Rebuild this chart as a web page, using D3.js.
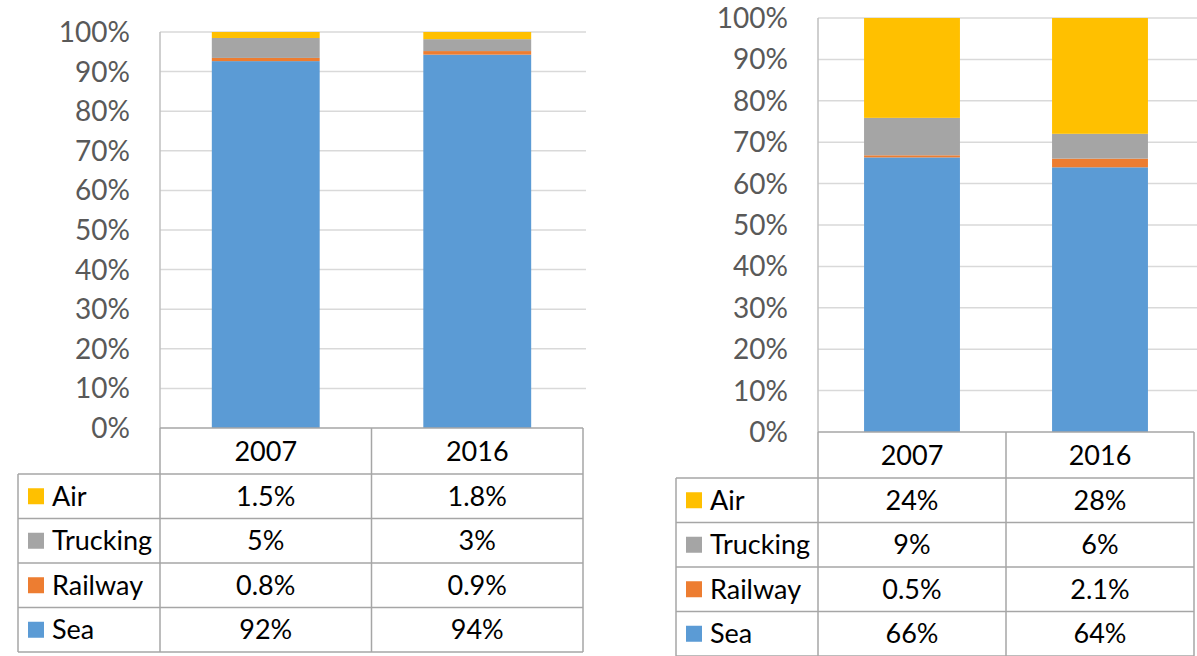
<!DOCTYPE html>
<html>
<head>
<meta charset="utf-8">
<script src="https://cdn.jsdelivr.net/npm/d3@7"></script>
<style>
  body { margin: 0; background: #fff; }
  svg { display: block; font-family: Lato, "Open Sans", sans-serif; }
</style>
</head>
<body>
<div class="canvas"></div>
<script>
// data
const years = ["2007", "2016"];
const modes = ["Air", "Trucking", "Railway", "Sea"];   // table order (top to bottom)
const colors = ["#FFC000", "#A5A5A5", "#ED7D31", "#5B9BD5"];

// left chart (values in %)
const leftAir = [1.5, 1.8];
const leftTrucking = [5, 3];
const leftRailway = [0.8, 0.9];
const leftSea = [92, 94];

// right chart
const rightAir = [24, 28];
const rightTrucking = [9, 6];
const rightRailway = [0.5, 2.1];
const rightSea = [66, 64];

const yTicks = [0, 0.1, 0.2, 0.3, 0.4, 0.5, 0.6, 0.7, 0.8, 0.9, 1];

const svg = d3.select(".canvas").append("svg")
    .attr("width", 1197)
    .attr("height", 656);

function drawChart(cfg, series) {
    // one row per year, keyed by mode
    const rows = years.map((y, i) => {
        const r = { year: y };
        modes.forEach((m, k) => r[m] = series[k][i]);
        return r;
    });

    const x = d3.scaleBand().domain(years).range([cfg.plotLeft, cfg.plotRight]).paddingInner(0.49).paddingOuter(0.245);
    const y = d3.scaleLinear().domain([0, 1]).range([cfg.plotBottom, cfg.plotTop]);

    const g = svg.append("g");

    // gridlines
    g.append("g").selectAll("line")
        .data(yTicks.filter(d => d > 0))
        .join("line")
        .attr("x1", cfg.plotLeft).attr("x2", cfg.gridRight)
        .attr("y1", d => y(d)).attr("y2", d => y(d))
        .attr("stroke", "#D9D9D9").attr("stroke-width", 1.5);

    // vertical axis line
    g.append("line")
        .attr("x1", cfg.plotLeft).attr("x2", cfg.plotLeft)
        .attr("y1", cfg.plotTop).attr("y2", cfg.plotBottom)
        .attr("stroke", "#BFBFBF").attr("stroke-width", 1.5);

    // y tick labels
    g.append("g").selectAll("text")
        .data(yTicks)
        .join("text")
        .attr("x", cfg.plotLeft - 30)
        .attr("y", d => y(d))
        .attr("dy", "0.36em")
        .attr("text-anchor", "end")
        .attr("fill", "#595959")
        .style("font-size", "28px")
        .text(d3.format(".0%"));

    // stacked bars, 100% normalised; Sea at the bottom
    const stack = d3.stack().keys(modes.slice().reverse()).offset(d3.stackOffsetExpand);
    const layers = stack(rows);

    g.append("g").selectAll("g")
        .data(layers)
        .join("g")
        .attr("fill", d => colors[modes.indexOf(d.key)])
        .selectAll("rect")
        .data(d => d)
        .join("rect")
        .attr("x", d => x(d.data.year))
        .attr("width", x.bandwidth())
        .attr("y", d => y(d[1]))
        .attr("height", d => y(d[0]) - y(d[1]));

    // data table
    const colW = (cfg.plotRight - cfg.plotLeft) / years.length;
    const headerBottom = cfg.plotBottom + cfg.headerH;
    const rowH = (cfg.tableBottom - headerBottom) / modes.length;
    const border = "#A6A6A6";
    const t = g.append("g").attr("stroke", border).attr("stroke-width", 1.5);

    // horizontal lines
    t.append("line").attr("x1", cfg.plotLeft).attr("x2", cfg.plotRight)
        .attr("y1", cfg.plotBottom).attr("y2", cfg.plotBottom);
    d3.range(modes.length + 1).forEach(k => {
        const yy = headerBottom + k * rowH;
        t.append("line").attr("x1", cfg.tableLeft).attr("x2", cfg.plotRight)
            .attr("y1", yy).attr("y2", yy);
    });
    // vertical lines
    t.append("line").attr("x1", cfg.tableLeft).attr("x2", cfg.tableLeft)
        .attr("y1", headerBottom).attr("y2", cfg.tableBottom);
    d3.range(years.length + 1).forEach(k => {
        const xx = cfg.plotLeft + k * colW;
        t.append("line").attr("x1", xx).attr("x2", xx)
            .attr("y1", cfg.plotBottom).attr("y2", cfg.tableBottom);
    });

    const fs = "27px";
    // header
    g.append("g").selectAll("text")
        .data(years)
        .join("text")
        .attr("x", (d, i) => cfg.plotLeft + (i + 0.5) * colW)
        .attr("y", cfg.plotBottom + cfg.headerH / 2)
        .attr("dy", "0.36em")
        .attr("text-anchor", "middle")
        .style("font-size", fs)
        .text(d => d);

    // legend keys + names
    const lg = g.append("g").selectAll("g")
        .data(modes)
        .join("g")
        .attr("transform", (d, k) => `translate(${cfg.tableLeft},${headerBottom + (k + 0.5) * rowH})`);
    lg.append("rect")
        .attr("x", 10).attr("y", -8).attr("width", 16).attr("height", 16)
        .attr("fill", (d, k) => colors[k]);
    lg.append("text")
        .attr("x", 34).attr("dy", "0.36em")
        .style("font-size", fs)
        .text(d => d);

    // values
    modes.forEach((m, k) => {
        g.append("g").selectAll("text")
            .data(series[k])
            .join("text")
            .attr("x", (d, i) => cfg.plotLeft + (i + 0.5) * colW)
            .attr("y", headerBottom + (k + 0.5) * rowH)
            .attr("dy", "0.36em")
            .attr("text-anchor", "middle")
            .style("font-size", fs)
            .text(d => d + "%");
    });
}

drawChart({
    plotLeft: 160, plotRight: 583, gridRight: 586,
    plotTop: 32, plotBottom: 428,
    tableLeft: 18, headerH: 46, tableBottom: 652
}, [leftAir, leftTrucking, leftRailway, leftSea]);

drawChart({
    plotLeft: 818, plotRight: 1194, gridRight: 1197,
    plotTop: 18, plotBottom: 432,
    tableLeft: 676, headerH: 46, tableBottom: 656
}, [rightAir, rightTrucking, rightRailway, rightSea]);
</script>
</body>
</html>
